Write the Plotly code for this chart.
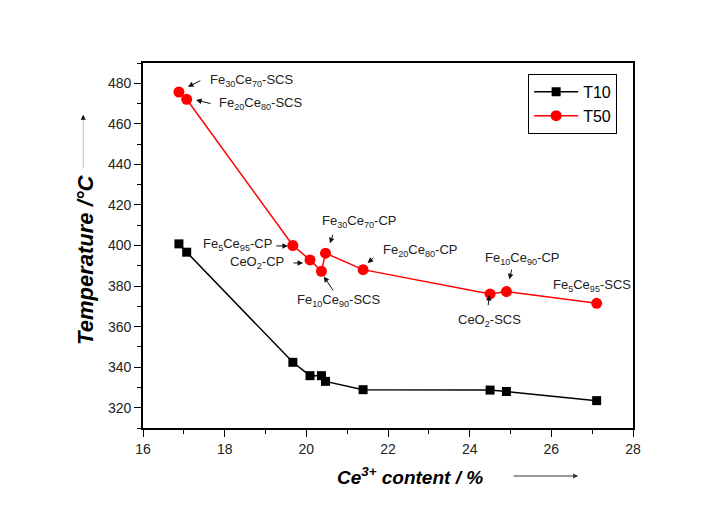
import plotly.graph_objects as go

# Ce3+ content (%) of each catalyst sample, with light-off temperatures
samples = ["Fe30Ce70-SCS", "Fe20Ce80-SCS", "Fe5Ce95-CP", "CeO2-CP", "Fe10Ce90-SCS",
           "Fe30Ce70-CP", "Fe20Ce80-CP", "CeO2-SCS", "Fe10Ce90-CP", "Fe5Ce95-SCS"]
ce3_content = [16.88, 17.07, 19.67, 20.09, 20.37, 20.47, 21.39, 24.5, 24.9, 27.11]
t10 = [400.8, 396.7, 342.4, 335.8, 335.8, 333.0, 328.9, 328.7, 328.0, 323.5]
t50 = [475.7, 472.1, 400.0, 392.9, 387.3, 396.2, 388.1, 376.1, 377.3, 371.5]

# sample labels: (text, x, y, xanchor) and arrow (tail -> head) in data units
labels = [
    ("Fe<sub>30</sub>Ce<sub>70</sub>-SCS", 17.59, 481.3, "left", (17.44, 481.6), (17.10, 478.3)),
    ("Fe<sub>20</sub>Ce<sub>80</sub>-SCS", 17.81, 469.8, "left", (17.69, 469.8), (17.30, 471.8)),
    ("Fe<sub>5</sub>Ce<sub>95</sub>-CP", 19.21, 400.3, "right", (19.23, 399.8), (19.55, 399.8)),
    ("CeO<sub>2</sub>-CP", 19.50, 391.4, "right", (19.65, 391.4), (19.92, 391.4)),
    ("Fe<sub>10</sub>Ce<sub>90</sub>-SCS", 20.78, 373.1, "center", (20.68, 377.1), (20.43, 384.7)),
    ("Fe<sub>30</sub>Ce<sub>70</sub>-CP", 20.335, 411.7, "left", (20.66, 406.0), (20.58, 401.1)),
    ("Fe<sub>20</sub>Ce<sub>80</sub>-CP", 21.83, 397.4, "left", (21.68, 394.5), (21.50, 391.4)),
    ("Fe<sub>10</sub>Ce<sub>90</sub>-CP", 24.33, 393.8, "left", (25.04, 388.9), (24.97, 383.3)),
    ("CeO<sub>2</sub>-SCS", 23.67, 362.8, "left", (24.45, 369.8), (24.48, 375.6)),
    ("Fe<sub>5</sub>Ce<sub>95</sub>-SCS", 25.99, 380.5, "left", None, None),
]

FONT = "Liberation Sans, Arial, sans-serif"

fig = go.Figure()
fig.add_trace(go.Scatter(
    x=ce3_content, y=t10, name="T10", mode="lines+markers",
    line=dict(color="black", width=1.5),
    marker=dict(symbol="square", size=9, color="black"),
))
fig.add_trace(go.Scatter(
    x=ce3_content, y=t50, name="T50", mode="lines+markers",
    line=dict(color="#ff0000", width=1.5),
    marker=dict(symbol="circle", size=11, color="#ff0000"),
))

annotations = []
for text, x, y, xa, tail, head in labels:
    annotations.append(dict(
        x=x, y=y, xref="x", yref="y", text=text, showarrow=False,
        xanchor=xa, yanchor="middle",
        font=dict(family=FONT, size=13, color="#222"),
    ))
    if tail is not None:
        annotations.append(dict(
            x=head[0], y=head[1], ax=tail[0], ay=tail[1],
            xref="x", yref="y", axref="x", ayref="y",
            text="", showarrow=True, arrowhead=2, arrowsize=1.1,
            arrowwidth=1, arrowcolor="#111",
        ))

# axis titles with direction arrows
annotations += [
    dict(x=0.545, y=-0.1315, xref="paper", yref="paper", showarrow=False,
         text="<b><i>Ce<sup>3+</sup> content / %</i></b>",
         font=dict(family=FONT, size=19, color="black"),
         xanchor="center", yanchor="middle"),
    dict(x=-0.1165, y=0.4603, xref="paper", yref="paper", showarrow=False,
         text="<b><i>Temperature /°C</i></b>", textangle=-90,
         font=dict(family=FONT, size=22, color="black"),
         xanchor="center", yanchor="middle"),
    dict(x=0.888, y=-0.1315, ax=-66, ay=0,
         xref="paper", yref="paper", axref="pixel", ayref="pixel",
         text="", showarrow=True, arrowhead=2, arrowsize=1,
         arrowwidth=1, arrowcolor="#333"),
    dict(x=-0.122, y=0.858, ax=0, ay=55,
         xref="paper", yref="paper", axref="pixel", ayref="pixel",
         text="", showarrow=True, arrowhead=2, arrowsize=1,
         arrowwidth=1, arrowcolor="#bbbbbb"),
    dict(x=-0.122, y=0.858, ax=0, ay=6,
         xref="paper", yref="paper", axref="pixel", ayref="pixel",
         text="", showarrow=True, arrowhead=2, arrowsize=1,
         arrowwidth=1, arrowcolor="#111"),
]

axis_common = dict(
    showgrid=False, zeroline=False,
    showline=True, linecolor="black", linewidth=1.6, mirror=True,
    ticks="outside", ticklen=7, tickwidth=1.2, tickcolor="black",
    tickfont=dict(family=FONT, size=14, color="#222"),
)

fig.update_layout(
    width=714, height=505,
    margin=dict(l=143, r=81, t=63, b=77),
    paper_bgcolor="white", plot_bgcolor="white",
    showlegend=True,
    legend=dict(
        x=0.786, y=0.97, xanchor="left", yanchor="top",
        bgcolor="white", bordercolor="black", borderwidth=1,
        font=dict(family=FONT, size=16, color="black"),
        itemwidth=44, tracegroupgap=0,
    ),
    annotations=annotations,
    xaxis=dict(range=[16, 28], dtick=2, tick0=16,
               minor=dict(dtick=1, ticks="outside", ticklen=4, tickcolor="black"),
               **axis_common),
    yaxis=dict(range=[310, 490], dtick=20, tick0=320,
               minor=dict(dtick=10, ticks="outside", ticklen=4, tickcolor="black"),
               **axis_common),
)

fig.write_html("out.html")
